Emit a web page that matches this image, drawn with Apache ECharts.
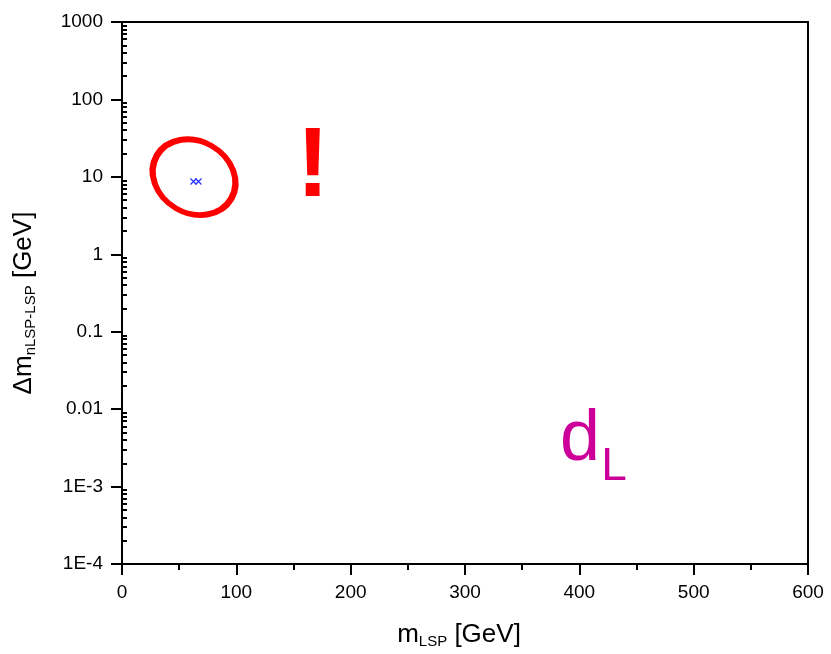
<!DOCTYPE html>
<html>
<head>
<meta charset="utf-8">
<script src="https://cdn.jsdelivr.net/npm/echarts@6/dist/echarts.min.js"></script>
<style>html,body{margin:0;padding:0;background:#fff}#c{width:831px;height:654px}</style>
</head>
<body>
<div id="c"></div>
<script>
// ---- data ----
const xTicks = [0, 100, 200, 300, 400, 500, 600];
const yTickLabels = ['1E-4', '1E-3', '0.01', '0.1', '1', '10', '100', '1000'];
const pointsX = [62.5, 66.9];
const pointsY = [8.7, 8.7];
const ellipseCenter = [63, 9.9];
const exclaimPos = [167, 12.6];
const dPos = [400.6, 0.0040];
const lPos = [430.3, 0.00179];

const FONT = "'Liberation Sans', Arial, sans-serif";
// minor log ticks (2..9 per decade), in log10 space
const minorLog = [];
for (let e = -4; e < 3; e++) for (let k = 2; k <= 9; k++) minorLog.push(e + Math.log10(k));

const chart = echarts.init(document.getElementById('c'), null, {renderer: 'canvas'});
chart.setOption({
  animation: false,
  backgroundColor: '#fff',
  grid: {left: 122, right: 23, top: 22, bottom: 89, show: true, borderColor: '#000', borderWidth: 2, backgroundColor: 'transparent'},
  xAxis: {
    type: 'value', min: 0, max: 600, interval: 100,
    axisLine: {onZero: false, lineStyle: {color: '#000', width: 2}},
    axisTick: {length: 11, lineStyle: {color: '#000', width: 2}},
    minorTick: {show: true, splitNumber: 2, length: 6, lineStyle: {color: '#000', width: 2}},
    splitLine: {show: false},
    axisLabel: {color: '#000', fontSize: 19, fontFamily: FONT, margin: 19},
    name: '{m|m}{s|LSP}{m| [GeV]}',
    nameLocation: 'middle', nameGap: 56,
    nameTextStyle: {
      fontFamily: FONT, color: '#000', padding: [0, 12, 0, 0],
      rich: {
        m: {fontSize: 26, fontFamily: FONT, color: '#000'},
        s: {fontSize: 15, fontFamily: FONT, color: '#000', padding: [14, 0, 0, 0]}
      }
    }
  },
  yAxis: [{
    type: 'log', logBase: 10, min: 1e-4, max: 1000,
    axisLine: {onZero: false, lineStyle: {color: '#000', width: 2}},
    axisTick: {length: 11, lineStyle: {color: '#000', width: 2}},
    splitLine: {show: false},
    axisLabel: {
      color: '#000', fontSize: 19, fontFamily: FONT, margin: 19,
      formatter: v => yTickLabels[Math.round(Math.log10(v)) + 4]
    },
    name: '{m|Δm}{s|nLSP-LSP}{m| [GeV]}',
    nameLocation: 'middle', nameGap: 84, nameRotate: 90,
    nameTextStyle: {
      fontFamily: FONT, color: '#000', padding: [0, 20, 0, 0],
      rich: {
        m: {fontSize: 26, fontFamily: FONT, color: '#000'},
        s: {fontSize: 15, fontFamily: FONT, color: '#000', padding: [14, 0, 0, 0]}
      }
    }
  }, {
    type: 'value', min: -4, max: 3, position: 'left',
    axisLine: {show: false},
    axisLabel: {show: false},
    splitLine: {show: false},
    axisTick: {show: true, inside: true, length: 5, customValues: minorLog, lineStyle: {color: '#000', width: 2}}
  }],
  series: [{
    type: 'scatter',
    data: pointsX.map((x, i) => [x, pointsY[i]]),
    symbol: 'path://M0,0L10,10M10,0L0,10',
    symbolSize: 6,
    itemStyle: {color: 'none', borderColor: '#2233ff', borderWidth: 1.2, opacity: 1}
  }, {
    type: 'scatter',
    data: [ellipseCenter],
    symbol: 'path://M0,50A50,50 0 1,1 100,50A50,50 0 1,1 0,50Z',
    symbolSize: [86, 72],
    symbolRotate: -30,
    itemStyle: {color: 'rgba(0,0,0,0)', borderColor: '#ff0000', borderWidth: 6, opacity: 1},
    silent: true
  }, {
    type: 'scatter',
    data: [exclaimPos],
    symbolSize: 0,
    itemStyle: {opacity: 1},
    label: {show: true, position: 'inside', formatter: '!', color: '#ff0000', fontSize: 98, fontWeight: 'bold', fontFamily: FONT}
  }, {
    type: 'scatter',
    data: [dPos],
    symbolSize: 0,
    itemStyle: {opacity: 1},
    label: {show: true, position: 'inside', formatter: 'd', color: '#cc0099', fontSize: 72, fontFamily: FONT}
  }, {
    type: 'scatter',
    data: [lPos],
    symbolSize: 0,
    itemStyle: {opacity: 1},
    label: {show: true, position: 'inside', formatter: 'L', color: '#cc0099', fontSize: 46, fontFamily: FONT}
  }]
});
</script>
</body>
</html>
